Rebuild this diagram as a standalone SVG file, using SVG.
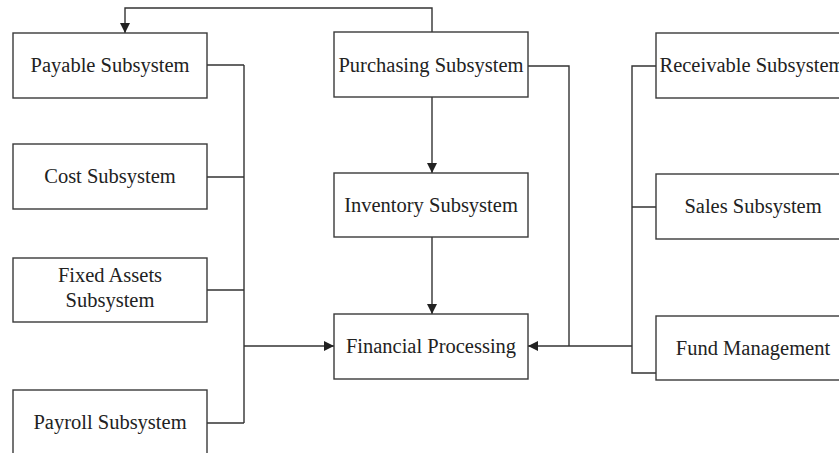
<svg xmlns="http://www.w3.org/2000/svg" width="839" height="453" viewBox="0 0 839 453">
<style>
.box{fill:#fff;stroke:#3a3a3a;stroke-width:1.4}
.lbl{font-family:"Liberation Serif","Times New Roman",serif;font-size:20.5px;fill:#222;text-anchor:middle}
.wire{fill:none;stroke:#333;stroke-width:1.4}
</style>
<defs>
<marker id="ah" viewBox="0 0 10 10" refX="10" refY="5" markerWidth="10" markerHeight="10" markerUnits="userSpaceOnUse" orient="auto">
<path d="M0,0 L10,5 L0,10 z" fill="#222"/>
</marker>
</defs>
<rect width="839" height="453" fill="#fff"/>
<g id="connectors">
<path class="wire" d="M432,32 V8 H125 V33" marker-end="url(#ah)"/>
<path class="wire" d="M432,97 V173" marker-end="url(#ah)"/>
<path class="wire" d="M432,237 V314" marker-end="url(#ah)"/>
<path class="wire" d="M207,65 H244 M207,177 H244 M207,290 H244 M207,423 H244 M244,65 V423"/>
<path class="wire" d="M244,346 H334" marker-end="url(#ah)"/>
<path class="wire" d="M528,66 H569 V346"/>
<path class="wire" d="M656,66 H632 V373 H656 M632,207 H656"/>
<path class="wire" d="M632,346 H528" marker-end="url(#ah)"/>
</g>
<g id="payable"><rect class="box" x="13" y="33" width="194" height="65"/><text class="lbl" x="110" y="72">Payable Subsystem</text></g>
<g id="cost"><rect class="box" x="13" y="144" width="194" height="65"/><text class="lbl" x="110" y="183">Cost Subsystem</text></g>
<g id="fixed-assets"><rect class="box" x="13" y="258" width="194" height="64"/><text class="lbl" x="110" y="282">Fixed Assets</text><text class="lbl" x="110" y="307">Subsystem</text></g>
<g id="payroll"><rect class="box" x="13" y="390" width="194" height="70"/><text class="lbl" x="110" y="429">Payroll Subsystem</text></g>
<g id="purchasing"><rect class="box" x="334" y="32" width="194" height="65"/><text class="lbl" x="431" y="72">Purchasing Subsystem</text></g>
<g id="inventory"><rect class="box" x="334" y="173" width="194" height="64"/><text class="lbl" x="431" y="212">Inventory Subsystem</text></g>
<g id="financial"><rect class="box" x="334" y="314" width="194" height="65"/><text class="lbl" x="431" y="353">Financial Processing</text></g>
<g id="receivable"><rect class="box" x="656" y="33" width="194" height="65"/><text class="lbl" x="752" y="72">Receivable Subsystem</text></g>
<g id="sales"><rect class="box" x="656" y="174" width="194" height="65"/><text class="lbl" x="753" y="213">Sales Subsystem</text></g>
<g id="fund"><rect class="box" x="656" y="316" width="194" height="64"/><text class="lbl" x="753" y="355">Fund Management</text></g>
</svg>
